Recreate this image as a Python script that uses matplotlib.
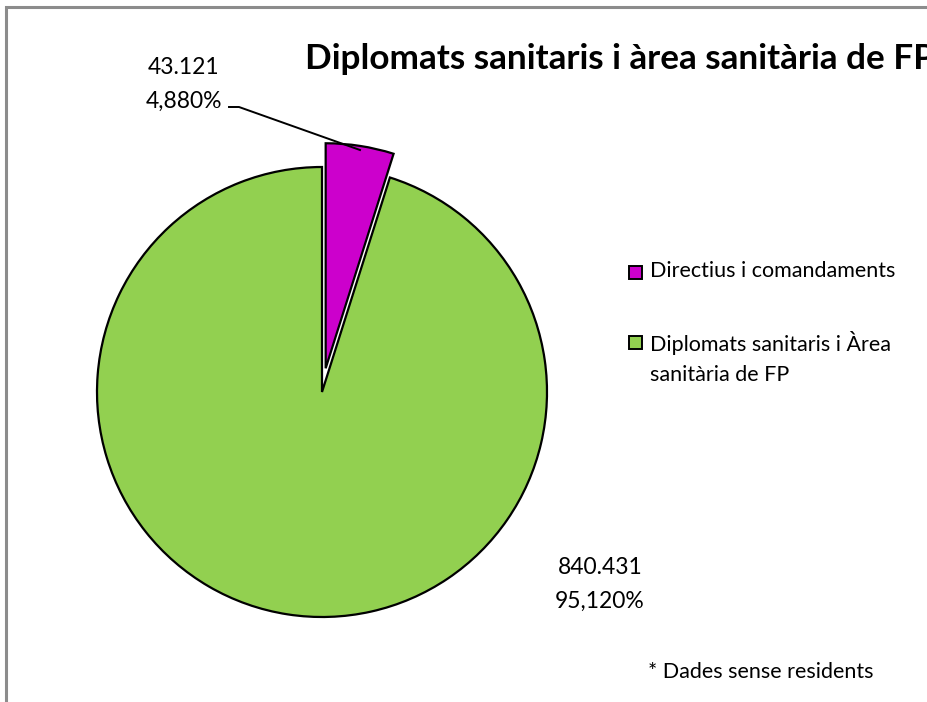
import matplotlib.pyplot as plt
from matplotlib.patches import Rectangle

# dades
categories = ['Directius i comandaments', 'Diplomats sanitaris i Àrea\nsanitària de FP']
values = [43121, 840431]
value_labels = ['43.121', '840.431']
pct_labels = ['4,880%', '95,120%']
colors = ['#CC00CC', '#92D050']

plt.rcParams['font.family'] = ['Lato', 'DejaVu Sans']

W, H = 928, 702
fig = plt.figure(figsize=(W / 100, H / 100), dpi=100)
ax = fig.add_axes([0, 0, 1, 1])

# coordenades en píxels (y cap amunt)
cx, cy, R = 322, H - 392, 225
explode = [24, 0]  # desplaçament en píxels del sector destacat

wedges, _ = ax.pie(values, colors=colors, explode=explode, startangle=90,
                   counterclock=False, center=(cx, cy), radius=R,
                   wedgeprops=dict(edgecolor='black', linewidth=1.6))
ax.set_xlim(0, W)
ax.set_ylim(0, H)
ax.set_aspect('equal')
ax.axis('off')

# marc del gràfic (només es veuen el costat esquerre i el superior)
ax.plot([6, 6, W], [0, H - 7, H - 7], color='#8c8c8c', linewidth=2.2,
        solid_joinstyle='miter', solid_capstyle='butt')

# títol (tallat pel marge dret)
ax.text(305, H - 59, 'Diplomats sanitaris i àrea sanitària de FP',
        fontsize=25.3, fontweight='bold', ha='left', va='center')

# etiquetes de dades
ax.text(184, H - 67, value_labels[0], fontsize=16.5, ha='center', va='center')
ax.text(184, H - 101, pct_labels[0], fontsize=16.5, ha='center', va='center')
ax.plot([229, 239, 360], [H - 107, H - 107, H - 150], color='black', linewidth=1.4)

ax.text(600, H - 568, value_labels[1], fontsize=16.5, ha='center', va='center')
ax.text(600, H - 601, pct_labels[1], fontsize=16.5, ha='center', va='center')

# llegenda
legend_y = [273, 343]
for wedge, label, ly in zip(wedges, categories, legend_y):
    ax.add_patch(Rectangle((629, H - ly - 6.5), 13, 13,
                           facecolor=wedge.get_facecolor(), edgecolor='black',
                           linewidth=1.4))
    ax.text(650, H - ly + 12, label, fontsize=15.5, ha='left', va='top',
            linespacing=1.6)

ax.text(874, H - 672, '* Dades sense residents', fontsize=15.5, ha='right', va='center')

fig.savefig('out.png', dpi=100)
